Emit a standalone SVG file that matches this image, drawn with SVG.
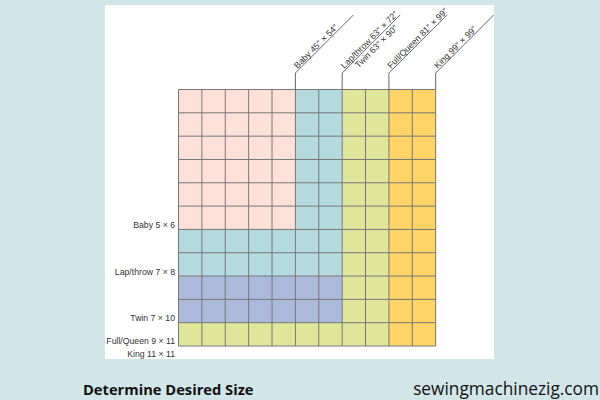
<svg xmlns="http://www.w3.org/2000/svg" width="600" height="400" viewBox="0 0 600 400">
<style>
.lbl{font-family:"Liberation Sans",Arial,sans-serif;font-size:8.7px;fill:#333}
.top{font-family:"Liberation Sans",Arial,sans-serif;font-size:8.8px;fill:#333}
.lead{fill:none;stroke:#555;stroke-width:0.9}
.grid{fill:none;stroke:#777;stroke-width:1}
</style>
<rect width="600" height="400" fill="#d1e6e8"/>
<rect x="105" y="5" width="389" height="354" fill="#ffffff"/>
<g id="quilt-grid">
<rect x="178.5" y="89.5" width="116.9" height="139.92" fill="#fde1d8"/>
<rect x="295.4" y="89.5" width="46.76" height="186.56" fill="#b4d9de"/>
<rect x="178.5" y="229.42" width="116.9" height="46.64" fill="#b4d9de"/>
<rect x="178.5" y="276.06" width="163.66" height="46.64" fill="#abb9da"/>
<rect x="342.16" y="89.5" width="46.76" height="256.52" fill="#dfe699"/>
<rect x="178.5" y="322.7" width="163.66" height="23.32" fill="#dfe699"/>
<rect x="388.92" y="89.5" width="46.76" height="256.52" fill="#fed466"/>
<path class="grid" d="M178.5 89.5V346.02M201.88 89.5V346.02M225.26 89.5V346.02M248.64 89.5V346.02M272.02 89.5V346.02M295.4 89.5V346.02M318.78 89.5V346.02M342.16 89.5V346.02M365.54 89.5V346.02M388.92 89.5V346.02M412.3 89.5V346.02M435.68 89.5V346.02M178.5 89.5H435.68M178.5 112.82H435.68M178.5 136.14H435.68M178.5 159.46H435.68M178.5 182.78H435.68M178.5 206.1H435.68M178.5 229.42H435.68M178.5 252.74H435.68M178.5 276.06H435.68M178.5 299.38H435.68M178.5 322.7H435.68M178.5 346.02H435.68"/>
</g>
<g id="connectors">
<polyline class="lead" points="295.4,89.5 295.4,73 353.4,15"/>
<polyline class="lead" points="342.16,89.5 342.16,73 400.16,15"/>
<polyline class="lead" points="388.92,89.5 388.92,73 446.92,15"/>
<polyline class="lead" points="435.68,89.5 435.68,73 493.68,15"/>
</g>
<g id="top-labels">
<text class="top" transform="translate(297.5,69) rotate(-45)">Baby 45″ × 54″</text>
<text class="top" transform="translate(344.3,69) rotate(-45)">Lap/throw 63″ × 72″</text>
<text class="top" transform="translate(358.5,68.5) rotate(-45)">Twin 63″ × 90″</text>
<text class="top" transform="translate(391,69) rotate(-45)">Full/Queen 81″ × 99″</text>
<text class="top" transform="translate(437.8,69) rotate(-45)">King 99″ × 99″</text>
</g>
<g id="left-labels">
<text class="lbl" x="175" y="228" text-anchor="end">Baby 5 × 6</text>
<text class="lbl" x="175" y="275" text-anchor="end">Lap/throw 7 × 8</text>
<text class="lbl" x="175" y="321" text-anchor="end">Twin 7 × 10</text>
<text class="lbl" x="175" y="344" text-anchor="end">Full/Queen 9 × 11</text>
<text class="lbl" x="175" y="357" text-anchor="end">King 11 × 11</text>
</g>
<text x="83" y="395" font-family="'Open Sans',sans-serif" font-weight="bold" font-size="14.7" fill="#111">Determine Desired Size</text>
<text x="599" y="395" text-anchor="end" font-family="'Open Sans',sans-serif" font-size="17.3" fill="#111">sewingmachinezig.com</text>
</svg>
